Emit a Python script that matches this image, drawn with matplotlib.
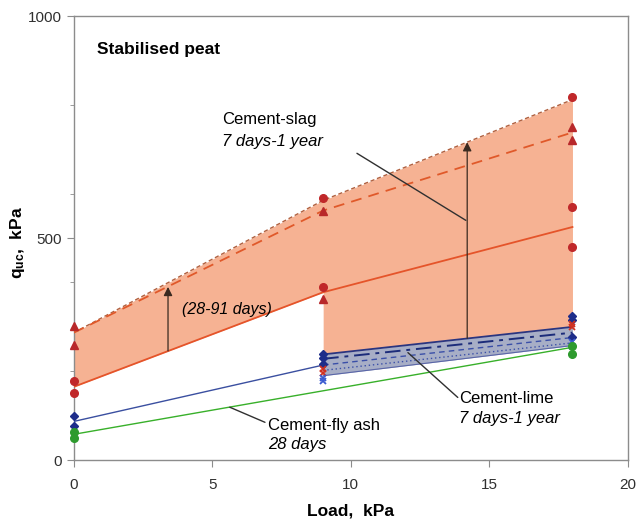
import numpy as np
import matplotlib.pyplot as plt
from matplotlib.ticker import MultipleLocator

plt.rcParams['font.family'] = ['Liberation Sans', 'DejaVu Sans']
plt.rcParams['mathtext.fontset'] = 'custom'
plt.rcParams['mathtext.rm'] = 'Liberation Sans'
plt.rcParams['mathtext.bf'] = 'Liberation Sans:bold'

# load steps (kPa)
load = [0, 9, 18]
load_band = [9, 18]

# cement-slag envelope, 7 days - 1 year
slag_upper = [287, 585, 812]
slag_dashed = [287, 562, 738]
slag_28d = [165, 378, 525]

# cement-lime band, 7 days - 1 year (only at 9 and 18 kPa)
lime_top = [238, 300]
lime_dashdot = [228, 287]
lime_dashed = [214, 276]
lime_dotted = [202, 264]
lime_bottom = [190, 258]

# cement-fly ash, 28 days and the blue 0-9 kPa line
flyash_x = [0, 18]
flyash = [58, 254]
blue_x = [0, 9]
blue = [87, 214]

# measured points
red_dot_x = [0, 0, 9, 9, 18, 18, 18]
red_dot_y = [179, 150, 590, 390, 818, 569, 480]
red_tri_x = [0, 0, 9, 9, 18, 18]
red_tri_y = [303, 260, 560, 363, 751, 720]
navy_dia_x = [0, 0, 9, 9, 9, 18, 18, 18]
navy_dia_y = [99, 76, 240, 230, 216, 325, 315, 278]
red_x_x = [9, 9, 18, 18]
red_x_y = [205, 197, 307, 300]
blue_x_x = [9, 9, 18, 18]
blue_x_y = [185, 179, 265, 258]
green_x = [0, 0, 18, 18]
green_y = [63, 49, 258, 240]

fig = plt.figure(figsize=(6.42, 5.21), dpi=100)
ax = fig.add_axes([0.115, 0.117, 0.863, 0.852])

# shaded regions
ax.fill_between([0, 9, 9, 18], [287, 585, 585, 812],
                [165, 378, lime_top[0], lime_top[1]],
                color='#f6b293', lw=0, zorder=1)
ax.fill_between(load_band, lime_top, lime_bottom, color='#a7aec6', lw=0, zorder=1)

# lines
ax.plot(load, slag_upper, color='#b0603f', lw=1.0, ls=(0, (3, 2)), zorder=3)
ax.plot(load, slag_dashed, color='#e0592a', lw=1.3, ls=(0, (6, 4)), zorder=3)
ax.plot(load, slag_28d, color='#e5542a', lw=1.3, zorder=3)
ax.plot(load_band, lime_top, color='#2a3580', lw=1.3, zorder=3)
ax.plot(load_band, lime_dashdot, color='#1c2c7a', lw=1.4, ls=(0, (8, 3, 2, 3)), zorder=3)
ax.plot(load_band, lime_dashed, color='#3a4fa8', lw=1.0, ls=(0, (4, 3)), zorder=3)
ax.plot(load_band, lime_dotted, color='#3a4fa8', lw=1.0, ls=(0, (1, 2)), zorder=3)
ax.plot(load_band, lime_bottom, color='#5a66a8', lw=0.8, zorder=3)
ax.plot(blue_x, blue, color='#3a4fa0', lw=1.0, zorder=3)
ax.plot(flyash_x, flyash, color='#38b02a', lw=1.0, zorder=3)

# markers
ax.plot(red_dot_x, red_dot_y, 'o', color='#c0282a', ms=5.5, zorder=5, clip_on=False)
ax.plot(red_tri_x, red_tri_y, '^', color='#b8282a', ms=6, zorder=5, clip_on=False)
ax.plot(navy_dia_x, navy_dia_y, 'D', color='#1e2d8a', ms=4.5, zorder=5, clip_on=False)
ax.plot(red_x_x, red_x_y, 'x', color='#d03020', ms=5, mew=1.3, zorder=5, clip_on=False)
ax.plot(blue_x_x, blue_x_y, 'x', color='#3a5ad0', ms=5, mew=1.3, zorder=5, clip_on=False)
ax.plot(green_x, green_y, 'o', color='#2e9a2e', ms=5.5, zorder=5, clip_on=False)

# arrows (curing time increase)
arrow = dict(arrowstyle='-|>', color='#3a2a20', lw=0.9, mutation_scale=13, shrinkA=0, shrinkB=0)
ax.annotate('', xy=(3.4, 390), xytext=(3.4, 246), arrowprops=arrow, zorder=6)
ax.annotate('', xy=(14.2, 716), xytext=(14.2, 274), arrowprops=arrow, zorder=6)

# labels
leader = dict(arrowstyle='-', color='#303030', lw=1.0, shrinkA=0, shrinkB=0)
ax.text(0.83, 924, 'Stabilised peat', fontsize=12.5, fontweight='bold', va='center')
ax.text(3.9, 340, '(28-91 days)', fontsize=11.5, style='italic', va='center')
ax.text(5.34, 767, 'Cement-slag', fontsize=12, va='center')
ax.text(5.34, 717, '7 days-1 year', fontsize=12, style='italic', va='center')
ax.annotate('', xy=(14.15, 540), xytext=(10.22, 691), arrowprops=leader)
ax.text(13.9, 139, 'Cement-lime', fontsize=12, va='center')
ax.text(13.9, 94, '7 days-1 year', fontsize=12, style='italic', va='center')
ax.annotate('', xy=(12.06, 242), xytext=(13.86, 141), arrowprops=leader)
ax.text(7.0, 78, 'Cement-fly ash', fontsize=12, va='center')
ax.text(7.0, 34, '28 days', fontsize=12, style='italic', va='center')
ax.annotate('', xy=(5.63, 119), xytext=(6.9, 85), arrowprops=leader)

# axes
ax.set_xlim(0, 20)
ax.set_ylim(0, 1000)
ax.set_xticks([0, 5, 10, 15, 20])
ax.set_yticks([0, 500, 1000])
ax.yaxis.set_minor_locator(MultipleLocator(200))
ax.tick_params(which='both', direction='out', colors='#8c8c8c', labelcolor='#303030', labelsize=11)
ax.tick_params(which='major', length=5)
ax.tick_params(which='minor', length=3)
ax.tick_params(axis='x', pad=8)
for s in ax.spines.values():
    s.set_color('#8c8c8c')
    s.set_linewidth(1.0)
ax.set_xlabel('Load,  kPa', fontsize=12.5, fontweight='bold', labelpad=8)
ax.set_ylabel(r'$\mathbf{q_{uc}}$,  kPa', fontsize=12.5, fontweight='bold')
ax.yaxis.set_label_coords(-0.085, 0.49)

plt.savefig('out.png', dpi=100)
